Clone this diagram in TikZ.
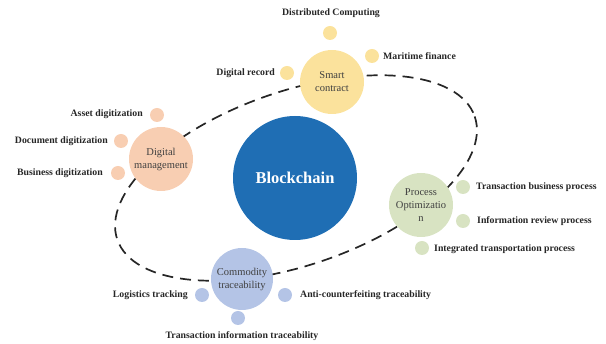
\documentclass[tikz,border=0pt]{standalone}
\usepackage{fontspec}
\setmainfont{Liberation Serif}
\definecolor{bcblue}{HTML}{1F6EB4}
\definecolor{scyellow}{HTML}{FBE29C}
\definecolor{dmpeach}{HTML}{F8CEB2}
\definecolor{pogreen}{HTML}{D8E3C2}
\definecolor{ctlilac}{HTML}{B4C4E6}
\definecolor{txtgray}{HTML}{404040}
\definecolor{lblgray}{HTML}{262626}
\tikzset{
  hub/.style={circle, inner sep=0pt, minimum size=#1, align=center,
    text=txtgray, font=\fontsize{10.5}{13}\selectfont},
  dot/.style={circle, inner sep=0pt, minimum size=14pt, fill=#1},
  lbl/.style={inner sep=0pt, text=lblgray, font=\bfseries\fontsize{9.8}{11}\selectfont},
  ring/.style={line width=1.7pt, dash pattern=on 11pt off 7pt, color=black!85}
}
\begin{document}
\begin{tikzpicture}[x=1pt,y=-1pt]
\useasboundingbox (0,0) rectangle (606,344);
% dashed orbit
\begin{scope}[shift={(296,178)}, rotate=19]
  \coordinate (oc) at (0,0);
  \draw[ring] (oc) ellipse (189 and 87);
\end{scope}
% central
\node[hub=124pt, fill=bcblue, text=white, font=\bfseries\fontsize{16.5}{19}\selectfont] (bc) at (295,178) {Blockchain};
% Smart contract
\node[hub=64pt, fill=scyellow] (sc) at (332,82) {Smart\\contract};
\node[dot=scyellow] (dc) at (330,33) {};
\node[dot=scyellow] (mf) at (372,56) {};
\node[dot=scyellow] (dr) at (287,73) {};
\node[lbl] (dcl) at (331,13) {Distributed Computing};
\node[lbl, anchor=west] (mfl) at (383,56) {Maritime finance};
\node[lbl, anchor=east] (drl) at (275,73) {Digital record};
% Digital management
\node[hub=64pt, fill=dmpeach] (dm) at (161,159) {Digital\\management};
\node[dot=dmpeach] (ad) at (157,115) {};
\node[dot=dmpeach] (dd) at (121,141) {};
\node[dot=dmpeach] (bd) at (118,173) {};
\node[lbl, anchor=east] (adl) at (143,114) {Asset digitization};
\node[lbl, anchor=east] (ddl) at (108,141) {Document digitization};
\node[lbl, anchor=east] (bdl) at (103,173) {Business digitization};
% Process optimization
\node[hub=64pt, fill=pogreen] (po) at (421,205) {Process\\Optimizatio\\n};
\node[dot=pogreen] (tb) at (463,187) {};
\node[dot=pogreen] (ir) at (463,221) {};
\node[dot=pogreen] (it) at (422,248) {};
\node[lbl, anchor=west] (tbl) at (476,187) {Transaction business process};
\node[lbl, anchor=west] (irl) at (477,221) {Information review process};
\node[lbl, anchor=west] (itl) at (434,249) {Integrated transportation process};
% Commodity traceability
\node[hub=62pt, fill=ctlilac] (ct) at (242,279) {Commodity\\traceability};
\node[dot=ctlilac] (lt) at (202,295) {};
\node[dot=ctlilac] (ac) at (285,295) {};
\node[dot=ctlilac] (ti) at (238,318) {};
\node[lbl, anchor=east] (ltl) at (188,295) {Logistics tracking};
\node[lbl, anchor=west] (acl) at (300,295) {Anti-counterfeiting traceability};
\node[lbl] (til) at (242,336) {Transaction information traceability};
\end{tikzpicture}
\end{document}
